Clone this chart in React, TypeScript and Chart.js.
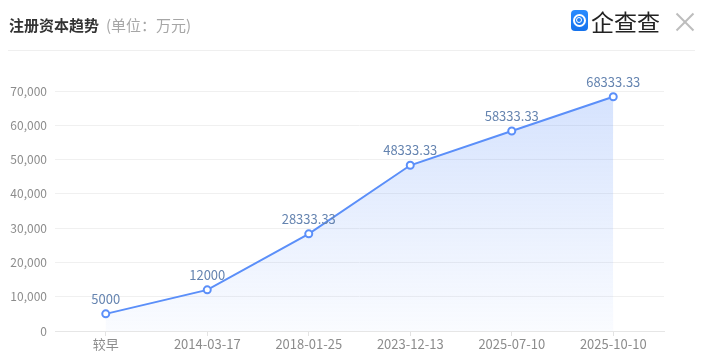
import React, { useEffect, useRef } from "react";
import { Chart, registerables } from "chart.js";

Chart.register(...registerables);

const categories = ["较早", "2014-03-17", "2018-01-25", "2023-12-13", "2025-07-10", "2025-10-10"];
const capitalValues = [5000, 12000, 28333.33, 48333.33, 58333.33, 68333.33];
const valueLabels = ["5000", "12000", "28333.33", "48333.33", "58333.33", "68333.33"];
const yTicks = [0, 10000, 20000, 30000, 40000, 50000, 60000, 70000];

const FONT = "'Noto Sans CJK SC', 'Noto Sans', sans-serif";

const dataLabelPlugin = {
  id: "dataLabels",
  afterDatasetsDraw(chart: any) {
    const { ctx } = chart;
    const meta = chart.getDatasetMeta(0);
    ctx.save();
    ctx.font = `13px ${FONT}`;
    ctx.fillStyle = "#6584b0";
    ctx.textAlign = "center";
    ctx.textBaseline = "middle";
    meta.data.forEach((pt: any, i: number) => {
      ctx.fillText(valueLabels[i], pt.x, pt.y - 15);
    });
    ctx.restore();
  },
};

export default function App() {
  const canvasRef = useRef<HTMLCanvasElement | null>(null);

  useEffect(() => {
    document.body.style.margin = "0";
    const canvas = canvasRef.current!;
    const chart = new Chart(canvas, {
      type: "line",
      data: {
        labels: categories,
        datasets: [
          {
            data: capitalValues,
            borderColor: "#5b8ff9",
            borderWidth: 2,
            pointRadius: 3.5,
            pointBorderWidth: 2,
            pointBackgroundColor: "#ffffff",
            pointBorderColor: "#5b8ff9",
            tension: 0,
            fill: "origin",
            backgroundColor: (c: any) => {
              const area = c.chart.chartArea;
              if (!area) return "rgba(91,143,249,0.15)";
              const g = c.chart.ctx.createLinearGradient(0, area.top, 0, area.bottom);
              g.addColorStop(0, "rgba(91,143,249,0.26)");
              g.addColorStop(1, "rgba(91,143,249,0.03)");
              return g;
            },
          },
        ],
      },
      options: {
        animation: false,
        responsive: false,
        maintainAspectRatio: false,
        layout: { padding: { top: 91, right: 39, left: 0, bottom: 0 } },
        plugins: { legend: { display: false }, tooltip: { enabled: false } },
        scales: {
          x: {
            offset: true,
            grid: {
              drawOnChartArea: false,
              drawTicks: true,
              tickLength: 5,
              color: "#e3e3e3",
            },
            border: { display: true, color: "#e6e6e6" },
            ticks: {
              color: "#8c8c8c",
              font: { size: 13, family: FONT },
              padding: 0,
              maxRotation: 0,
              autoSkip: false,
            },
            afterFit: (s: any) => {
              s.height = 30;
            },
          },
          y: {
            min: 0,
            max: 70000,
            afterBuildTicks: (s: any) => {
              s.ticks = yTicks.map((v) => ({ value: v }));
            },
            grid: { drawTicks: false, color: "#f0f0f0" },
            border: { display: false },
            ticks: {
              color: "#8c8c8c",
              font: { size: 12, family: FONT },
              padding: 8,
              callback: (v: any) => Number(v).toLocaleString("en-US"),
            },
            afterFit: (s: any) => {
              s.width = 55;
            },
          },
        },
      },
      plugins: [dataLabelPlugin],
    });
    return () => chart.destroy();
  }, []);

  return (
    <div style={{ position: "fixed", left: 0, top: 0, width: 703, height: 361, background: "#fff", fontFamily: FONT }}>
      <canvas ref={canvasRef} width={703} height={361} style={{ position: "absolute", left: 0, top: 0, width: 703, height: 361 }} />
      <div style={{ position: "absolute", left: 9, top: 14, fontSize: 15, lineHeight: "22px", whiteSpace: "nowrap" }}>
        <span style={{ fontWeight: 700, color: "#333" }}>注册资本趋势</span>
        <span style={{ color: "#a6a6a6", marginLeft: 7 }}>(单位：万元)</span>
      </div>
      <div style={{ position: "absolute", left: 8, top: 50, width: 687, height: 1, background: "#efefef" }} />
      <div
        style={{
          position: "absolute",
          left: 571,
          top: 10,
          width: 17,
          height: 21,
          borderRadius: 4,
          background: "linear-gradient(180deg, #2a8cff, #1572ec)",
        }}
      >
        <div
          style={{
            position: "absolute",
            left: 2,
            top: 4,
            width: 9,
            height: 9,
            borderRadius: "50%",
            border: "2px solid #fff",
          }}
        />
        <div
          style={{
            position: "absolute",
            left: 5,
            top: 7,
            width: 4,
            height: 4,
            borderRadius: "50%",
            border: "1.5px solid #fff",
          }}
        />
      </div>
      <div
        style={{
          position: "absolute",
          left: 591,
          top: 5,
          fontSize: 23,
          lineHeight: "32px",
          color: "#222",
          whiteSpace: "nowrap",
        }}
      >
        企查查
      </div>
      <div style={{ position: "absolute", left: 675, top: 12, width: 20, height: 20 }}>
        <div style={{ position: "absolute", left: -2, top: 9, width: 24, height: 2, background: "#bdbdbd", transform: "rotate(45deg)" }} />
        <div style={{ position: "absolute", left: -2, top: 9, width: 24, height: 2, background: "#bdbdbd", transform: "rotate(-45deg)" }} />
      </div>
    </div>
  );
}
